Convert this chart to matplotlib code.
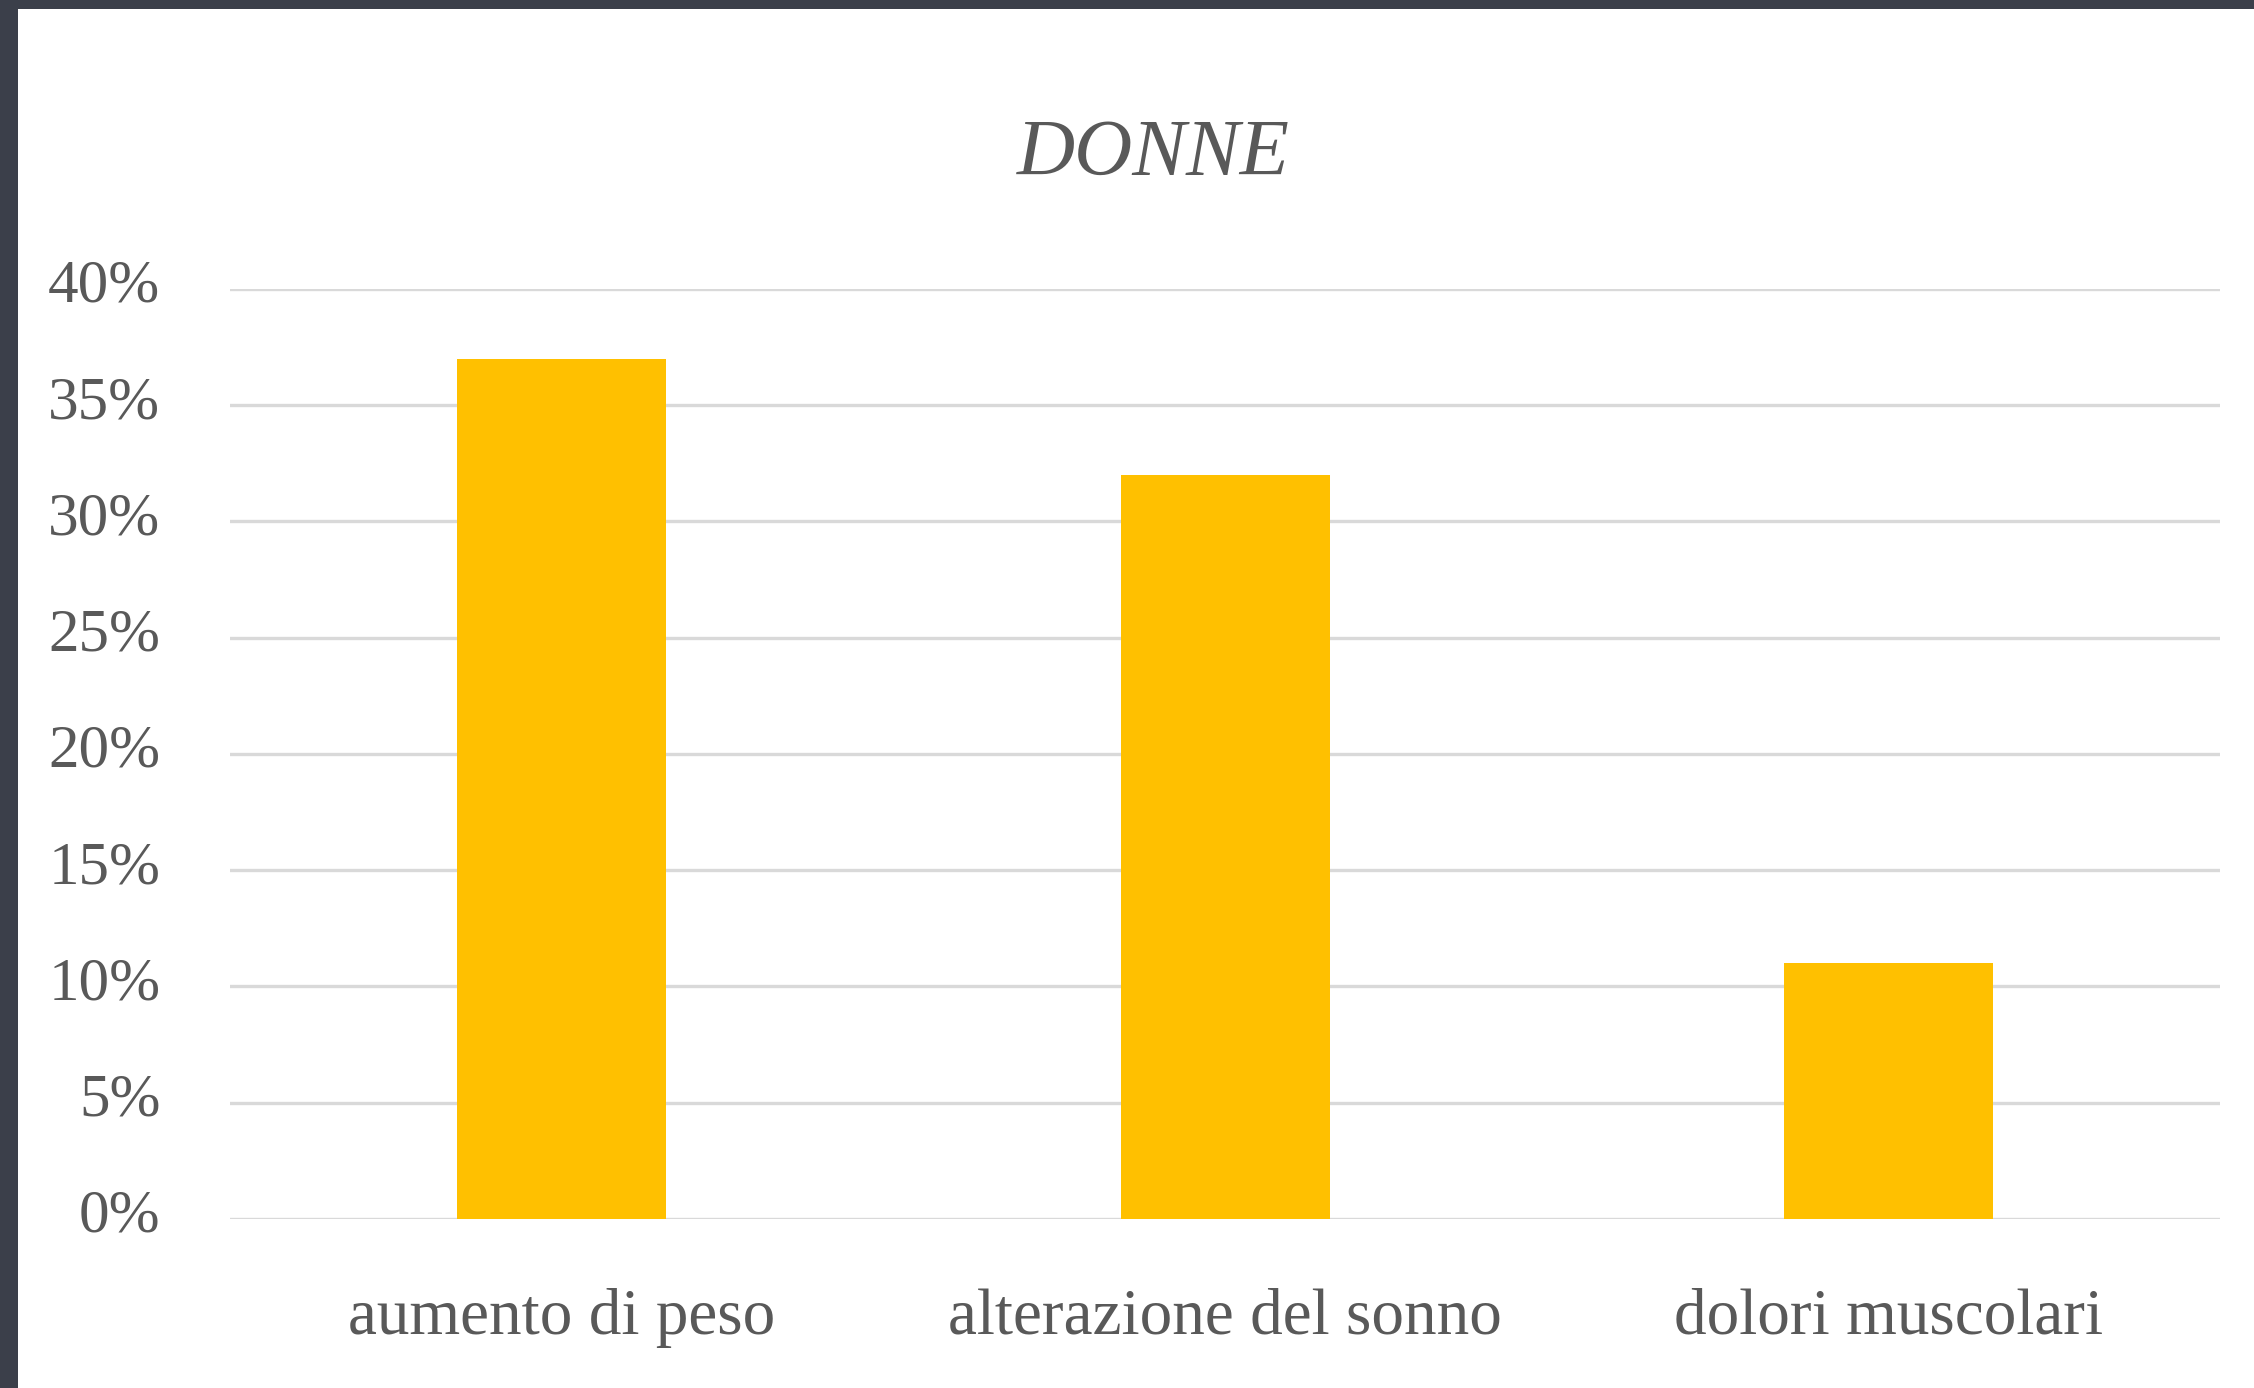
import matplotlib.pyplot as plt
import matplotlib.transforms as mtransforms
from matplotlib.patches import Rectangle
from matplotlib.ticker import PercentFormatter

categories = ['aumento di peso', 'alterazione del sonno', 'dolori muscolari']
valori = [0.37, 0.32, 0.11]
tick_valori = [0, 0.05, 0.10, 0.15, 0.20, 0.25, 0.30, 0.35, 0.40]

testo = '#595959'
griglia = '#d9d9d9'
barra = '#ffc000'

plt.rcParams['font.family'] = ['Liberation Serif', 'DejaVu Serif']

fig = plt.figure(figsize=(22.54, 13.88), dpi=100, facecolor='#3b3f4a')
# pannello bianco sopra lo sfondo scuro
fig.patches.append(Rectangle((18 / 2254, 0), 1, 1 - 9 / 1388,
                             transform=fig.transFigure, facecolor='white',
                             edgecolor='none', zorder=-1))

ax = fig.add_axes([0.102, 0.1218, 0.883, 0.670])
ax.set_zorder(1)
ax.set_facecolor('none')
x = range(len(categories))
ax.bar(x, valori, width=0.315, color=barra, zorder=3)

ax.set_xlim(-0.5, len(categories) - 0.5)
ax.set_ylim(0, 0.40)
ax.set_yticks(tick_valori)
ax.yaxis.set_major_formatter(PercentFormatter(1.0, decimals=0))
ax.set_xticks(list(x))
ax.set_xticklabels(categories)

ax.grid(axis='y', color=griglia, linewidth=2.4, zorder=0)
for s in ax.spines.values():
    s.set_visible(False)
ax.tick_params(axis='both', length=0, colors=testo)
ax.tick_params(axis='y', pad=50, labelsize=44)
ax.tick_params(axis='x', pad=50, labelsize=47)

# etichette y leggermente sollevate come nell'originale
su = mtransforms.ScaledTranslation(0, 6 / 72, fig.dpi_scale_trans)
for lab in ax.get_yticklabels():
    lab.set_transform(lab.get_transform() + su)

fig.text(0.5115, 0.888, 'DONNE', ha='center', va='center', fontsize=58,
         style='italic', color=testo, zorder=2)

fig.savefig('out.png', dpi=100, facecolor=fig.get_facecolor())
